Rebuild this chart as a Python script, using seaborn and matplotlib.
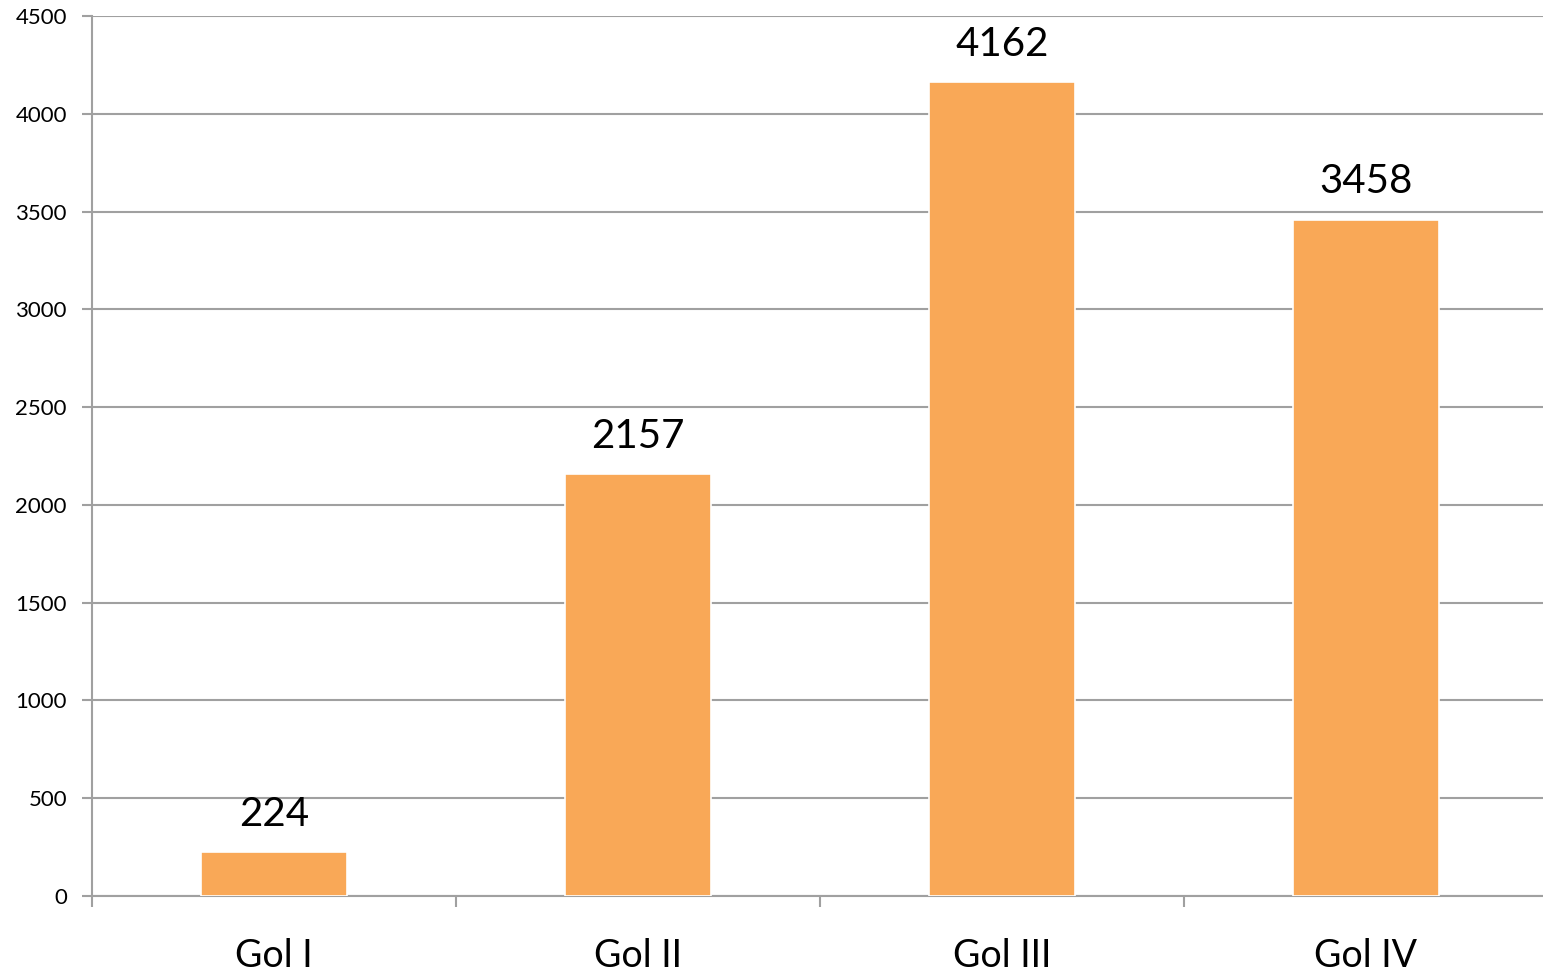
import pandas as pd
import numpy as np
import matplotlib
matplotlib.use("Agg")
import matplotlib.pyplot as plt
from matplotlib.ticker import MultipleLocator, FixedLocator
import seaborn as sns

# data
categories = ["Gol I", "Gol II", "Gol III", "Gol IV"]
values = [224, 2157, 4162, 3458]

df = pd.DataFrame({"gol": categories, "jumlah": values})

sns.set_style("white")
plt.rcParams['font.family'] = ['Lato', 'DejaVu Sans']

fig = plt.figure(figsize=(15.43, 9.73), dpi=100)
ax = fig.add_axes([92/1543, 1 - 896/973, 1456/1543, (896 - 16)/973])

sns.barplot(data=df, x="gol", y="jumlah", color="#F9A857", width=0.4,
            edgecolor="white", linewidth=1.2, saturation=1, ax=ax, zorder=3)

# ==========================================================
# Axes styling
# ==========================================================
ax.set_ylim(0, 4500)
ax.set_xlim(-0.5, 3.5)
ax.yaxis.set_major_locator(MultipleLocator(500))
ax.grid(axis="y", color="#a0a0a0", linewidth=1.5, zorder=0)
ax.set_axisbelow(True)

for s in ["top", "right"]:
    ax.spines[s].set_visible(False)
for s in ["left", "bottom"]:
    ax.spines[s].set_color("#a0a0a0")
    ax.spines[s].set_linewidth(1.5)

ax.set_xlabel("")
ax.set_ylabel("")

ax.tick_params(axis="y", left=True, length=7, width=1.5, color="#a0a0a0",
               labelsize=16, pad=11, labelcolor="black")
ax.tick_params(axis="x", which="major", bottom=True, length=0, labelsize=27,
               pad=30, labelcolor="black")
ax.xaxis.set_minor_locator(FixedLocator([-0.5, 0.5, 1.5, 2.5]))
ax.tick_params(axis="x", which="minor", bottom=True, length=8, width=1.5,
               color="#a0a0a0")

# value labels above bars
for i, v in enumerate(values):
    ax.annotate(str(v), (i, v), xytext=(0, 14), textcoords="offset points",
                ha="center", va="bottom", fontsize=29, color="black")

fig.savefig("out.png", dpi=100)
